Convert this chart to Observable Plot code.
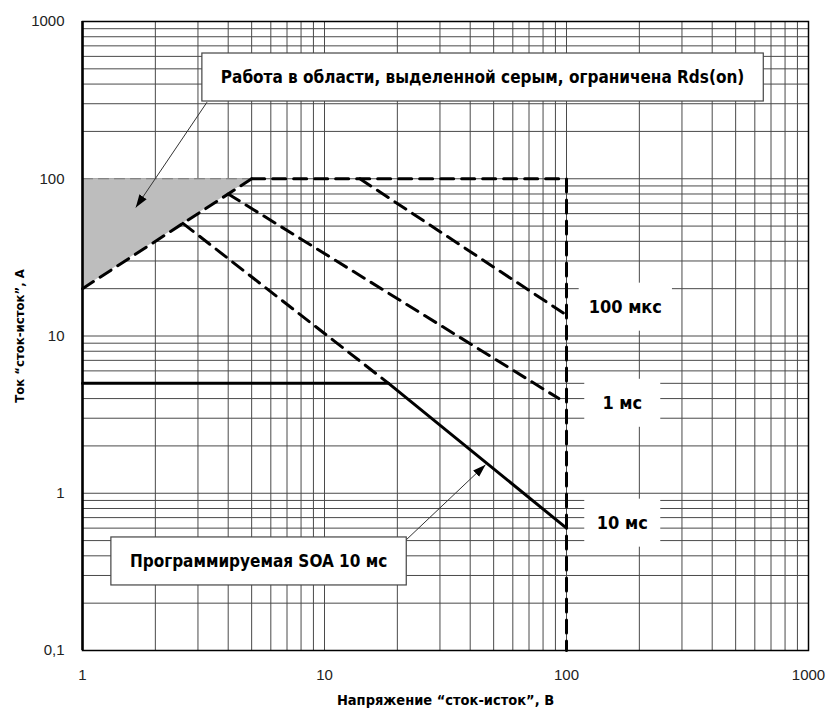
<!DOCTYPE html>
<html><head><meta charset="utf-8">
<script src="https://cdn.jsdelivr.net/npm/d3@7"></script>
<script src="https://cdn.jsdelivr.net/npm/@observablehq/plot@0.6"></script>
<style>
body{margin:0;background:#fff;}
#chart svg{display:block;}
</style>
</head><body><div id="chart"></div>
<script>
// ---- ticks & grid ----
const xTicks = [1, 10, 100, 1000];
const xTickLabels = ["1", "10", "100", "1000"];
const yTicks = [0.1, 1, 10, 100, 1000];
const yTickLabels = ["0,1", "1", "10", "100", "1000"];
const xGrid = [1,2,3,4,5,6,7,8,9,10,20,30,40,50,60,70,80,90,100,200,300,400,500,600,700,800,900,1000];
const yGrid = [0.1,0.2,0.3,0.4,0.5,0.6,0.7,0.8,0.9,1,2,3,4,5,6,7,8,9,10,20,30,40,50,60,70,80,90,100,200,300,400,500,600,700,800,900,1000];

// ---- series (V, A) ----
const shadeV = [1, 5, 1];          const shadeI = [20, 100, 100];
const shadeTopV = [1, 5];          const shadeTopI = [100, 100];
const rdsV = [1, 5];               const rdsI = [20, 100];
const limitV = [5, 100, 100];      const limitI = [100, 100, 0.1];
const us100V = [14, 97];           const us100I = [100, 14];
const ms1V = [4, 93];              const ms1I = [80, 4];
const ms10V = [2.6, 18.4];         const ms10I = [52, 5];
const soaV = [1, 18.4, 100];       const soaI = [5, 5, 0.6];

// ---- labels ----
const pulseLabels = ["100 мкс", "1 мс", "10 мс"];
const pulseLabelV = [175, 170, 170];
const pulseLabelI = [15.2, 3.72, 0.643];
const noteTexts = ["Работа в области, выделенной серым, ограничена Rds(on)", "Программируемая SOA 10 мс"];
const noteV = [45, 5.34];
const noteI = [440, 0.368];
const arrowFromV = [3.27, 21.6];   const arrowFromI = [307, 0.5];
const arrowToV = [1.66, 46.3];     const arrowToI = [65.6, 1.52];
const xTitle = "Напряжение “сток-исток”, В";
const yTitle = "Ток “сток-исток”, А";

const pts = (V, I) => V.map((v, i) => ({v, i: I[i]}));
const boldFont = "'Liberation Sans Narrow','Arial Narrow','DejaVu Sans Condensed',sans-serif";
const dash = "13,8";

const pulses = pulseLabels.map((t, k) => ({t, v: pulseLabelV[k], i: pulseLabelI[k]}));
const notes = noteTexts.map((t, k) => ({t, v: noteV[k], i: noteI[k]}));
const arrows = arrowFromV.map((v, k) => ({v1: v, i1: arrowFromI[k], v2: arrowToV[k], i2: arrowToI[k]}));

const plot = Plot.plot({
  width: 828, height: 709,
  marginLeft: 82, marginRight: 20, marginTop: 21, marginBottom: 59,
  style: {fontFamily: "'Liberation Sans', Arial, sans-serif", fontSize: "15px", color: "#222", background: "#fff"},
  x: {type: "log", domain: [1, 1000], ticks: xTicks, tickFormat: d => xTickLabels[xTicks.indexOf(d)], tickSize: 0, tickPadding: 19, label: null},
  y: {type: "log", domain: [0.1, 1000], ticks: yTicks, tickFormat: d => yTickLabels[yTicks.indexOf(d)], tickSize: 0, tickPadding: 18, label: null},
  marks: [
    Plot.ruleX(xGrid, {stroke: "#4a4a4a", strokeWidth: 1}),
    Plot.ruleY(yGrid, {stroke: "#4a4a4a", strokeWidth: 1}),
    Plot.area(pts(shadeV, shadeI), {x1: "v", y1: "i", y2: d => 100, fill: "#bdbdbd", curve: "linear"}),
    Plot.line(pts(shadeTopV, shadeTopI), {x: "v", y: "i", stroke: "#777", strokeWidth: 1.2, strokeDasharray: "10,6"}),
    Plot.line(pts(rdsV, rdsI), {x: "v", y: "i", stroke: "#000", strokeWidth: 3, strokeDasharray: dash}),
    Plot.line(pts(limitV, limitI), {x: "v", y: "i", stroke: "#000", strokeWidth: 3, strokeDasharray: dash}),
    Plot.line(pts(us100V, us100I), {x: "v", y: "i", stroke: "#000", strokeWidth: 3, strokeDasharray: dash}),
    Plot.line(pts(ms1V, ms1I), {x: "v", y: "i", stroke: "#000", strokeWidth: 3, strokeDasharray: dash}),
    Plot.line(pts(ms10V, ms10I), {x: "v", y: "i", stroke: "#000", strokeWidth: 3, strokeDasharray: dash}),
    Plot.line(pts(soaV, soaI), {x: "v", y: "i", stroke: "#000", strokeWidth: 3}),
    Plot.frame({stroke: "#000", strokeWidth: 1.5}),
    Plot.ruleX([1], {stroke: "#000", strokeWidth: 2.5}),
    Plot.text(pulses, {x: "v", y: "i", text: "t", fontFamily: boldFont, fontWeight: "bold", fontSize: 18, fill: "#000"}),
    Plot.link(arrows, {x1: "v1", y1: "i1", x2: "v2", y2: "i2", stroke: "#333", strokeWidth: 1}),
    Plot.text(notes, {x: "v", y: "i", text: "t", fontFamily: boldFont, fontWeight: "bold", fontSize: 17, fill: "#000"}),
    Plot.text([xTitle], {text: d => d, frameAnchor: "bottom", dy: 50, textAnchor: "middle", lineAnchor: "middle", fontFamily: boldFont, fontWeight: "bold", fontSize: 14.5, fill: "#000"}),
    Plot.text([yTitle], {text: d => d, frameAnchor: "left", dx: -63, rotate: -90, textAnchor: "middle", lineAnchor: "middle", fontFamily: boldFont, fontWeight: "bold", fontSize: 13, fill: "#000"})
  ]
});
document.getElementById("chart").appendChild(plot);

// post-process: boxes behind labels, filled arrowheads
const NS = "http://www.w3.org/2000/svg";
const textGroups = plot.querySelectorAll('g[aria-label="text"]');
function boxify(group, padX, h, minW, stroke) {
  if (!group) return;
  group.querySelectorAll("text").forEach(t => {
    const b = t.getBBox();
    const w = Math.max(b.width + 2 * padX, minW);
    const cx = b.x + b.width / 2, cy = b.y + b.height / 2;
    const r = document.createElementNS(NS, "rect");
    r.setAttribute("x", cx - w / 2);
    r.setAttribute("y", cy - h / 2);
    r.setAttribute("width", w);
    r.setAttribute("height", h);
    r.setAttribute("fill", "#fff");
    if (stroke !== "none") { r.setAttribute("stroke", stroke); r.setAttribute("stroke-width", 1.2); }
    if (t.getAttribute("transform")) r.setAttribute("transform", t.getAttribute("transform"));
    t.parentNode.insertBefore(r, t);
  });
}
boxify(textGroups[0], 10, 48, 76, "none");
boxify(textGroups[1], 19, 48, 0, "#444");

const defs = document.createElementNS(NS, "defs");
defs.innerHTML = '<marker id="ahead" viewBox="0 0 12 8" refX="12" refY="4" markerWidth="13" markerHeight="9" markerUnits="userSpaceOnUse" orient="auto"><path d="M0,0L12,4L0,8z" fill="#000"/></marker>';
plot.insertBefore(defs, plot.firstChild);
plot.querySelectorAll('g[aria-label="link"] path').forEach(p => p.setAttribute("marker-end", "url(#ahead)"));
</script>
</body></html>
